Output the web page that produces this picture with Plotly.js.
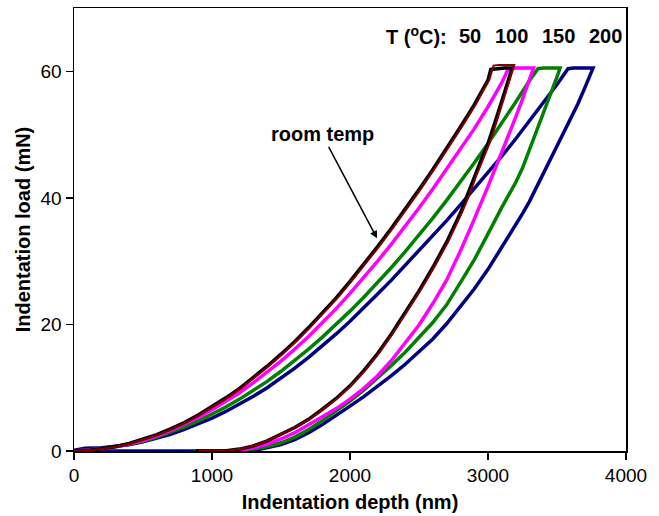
<!DOCTYPE html>
<html>
<head>
<meta charset="utf-8">
<script src="https://cdn.plot.ly/plotly-3.0.1.min.js"></script>
<style>
  html, body { margin: 0; padding: 0; background: #fff; }
  #chart { width: 659px; height: 516px; }
</style>
</head>
<body>
<div id="chart"></div>
<script>
// Load–depth curves from nanoindentation at several temperatures.
// Each curve: loading, hold at peak load, unloading, tip withdrawal at zero load.

// Room temperature
const depthRT = [0, 100, 200, 300, 400, 500, 600, 700, 800, 900, 1000, 1100, 1200, 1300, 1400, 1500, 1600, 1700, 1800, 1900, 2000, 2100, 2200, 2300, 2400, 2500, 2600, 2700, 2800, 2900, 3000, 3020,
  3060, 3120, 3175,
  3150, 3100, 3050, 3000, 2950, 2900, 2850, 2800, 2700, 2600, 2500, 2400, 2300, 2200, 2100, 2000, 1900, 1800, 1700, 1600, 1500, 1400, 1300, 1200, 1090, 880];
const loadRT = [0, 0.1, 0.35, 0.7, 1.2, 1.85, 2.6, 3.5, 4.5, 5.7, 7.0, 8.4, 9.9, 11.6, 13.4, 15.3, 17.3, 19.5, 21.8, 24.2, 26.8, 29.5, 32.3, 35.2, 38.2, 41.3, 44.5, 47.8, 51.2, 54.7, 58.6, 60.3,
  60.4, 60.5, 60.5,
  58.9, 55.3, 51.9, 48.6, 46.0, 43.2, 40.2, 37.6, 33.0, 29.0, 25.3, 21.8, 18.5, 15.4, 12.7, 10.3, 8.3, 6.6, 5.0, 3.7, 2.6, 1.6, 0.8, 0.3, 0, 0];

// 50 °C
const depth50 = [0, 110, 210, 310, 410, 510, 610, 710, 810, 910, 1010, 1110, 1210, 1310, 1410, 1510, 1610, 1710, 1810, 1910, 2010, 2110, 2210, 2310, 2410, 2510, 2610, 2710, 2810, 2910, 3010, 3040,
  3080, 3140, 3190,
  3162, 3112, 3062, 3012, 2962, 2912, 2862, 2812, 2712, 2612, 2512, 2412, 2312, 2212, 2112, 2012, 1912, 1812, 1712, 1612, 1512, 1412, 1312, 1212, 1102, 900];
const load50 = [0, 0.1, 0.35, 0.7, 1.2, 1.85, 2.6, 3.5, 4.5, 5.7, 7.0, 8.4, 9.9, 11.6, 13.4, 15.3, 17.3, 19.5, 21.8, 24.2, 26.8, 29.5, 32.3, 35.2, 38.2, 41.3, 44.5, 47.8, 51.2, 54.7, 58.7, 60.9,
  61.0, 61.0, 61.0,
  59.0, 55.4, 52.0, 48.7, 46.1, 43.3, 40.3, 37.7, 33.1, 29.1, 25.4, 21.9, 18.6, 15.5, 12.8, 10.4, 8.4, 6.7, 5.1, 3.8, 2.7, 1.7, 0.9, 0.35, 0, 0];

// 100 °C
const depth100 = [0, 100, 200, 300, 400, 500, 600, 700, 800, 900, 1000, 1100, 1200, 1300, 1400, 1500, 1600, 1700, 1800, 1900, 2000, 2100, 2200, 2300, 2400, 2500, 2600, 2700, 2800, 2900, 3000, 3100, 3145,
  3200, 3330,
  3300, 3250, 3200, 3150, 3100, 3050, 3000, 2900, 2800, 2700, 2600, 2500, 2400, 2300, 2200, 2100, 2000, 1900, 1800, 1700, 1600, 1500, 1400, 1300, 1180, 950];
const load100 = [0, 0.1, 0.3, 0.65, 1.1, 1.7, 2.4, 3.25, 4.2, 5.3, 6.5, 7.8, 9.2, 10.8, 12.5, 14.2, 16.1, 18.1, 20.3, 22.5, 24.9, 27.4, 30.0, 32.7, 35.5, 38.4, 41.4, 44.5, 47.6, 50.9, 54.4, 58.2, 60.3,
  60.5, 60.5,
  58.6, 55.6, 52.7, 49.9, 47.1, 44.4, 41.8, 36.6, 31.6, 27.0, 23.3, 19.9, 17.0, 14.3, 11.9, 9.9, 8.2, 6.7, 5.4, 4.1, 2.9, 1.9, 1.1, 0.5, 0, 0];

// 150 °C
const depth150 = [0, 100, 200, 300, 400, 500, 600, 700, 800, 900, 1000, 1100, 1200, 1300, 1400, 1500, 1600, 1700, 1800, 1900, 2000, 2100, 2200, 2300, 2400, 2500, 2600, 2700, 2800, 2900, 3000, 3100, 3200, 3300, 3362,
  3400, 3522,
  3500, 3450, 3400, 3350, 3300, 3250, 3200, 3100, 3000, 2900, 2800, 2700, 2600, 2500, 2400, 2300, 2200, 2100, 2000, 1900, 1800, 1700, 1600, 1500, 1400, 1300, 1200, 870];
const load150 = [0, 0.15, 0.35, 0.65, 1.05, 1.55, 2.2, 2.95, 3.8, 4.75, 5.8, 6.95, 8.2, 9.55, 11.0, 12.6, 14.3, 16.1, 18.0, 20.0, 22.1, 24.3, 26.6, 29.0, 31.5, 34.1, 36.8, 39.6, 42.5, 45.5, 48.6, 51.8, 55.1, 58.5, 60.4,
  60.5, 60.5,
  59.1, 56.2, 53.4, 50.6, 47.6, 44.7, 42.4, 38.5, 34.3, 30.2, 26.6, 23.1, 20.3, 17.9, 15.6, 13.5, 11.5, 9.6, 7.9, 6.3, 4.8, 3.4, 2.2, 1.3, 0.7, 0.3, 0, 0];

// 200 °C
const depth200 = [0, 80, 200, 300, 400, 500, 600, 700, 800, 900, 1000, 1100, 1200, 1300, 1400, 1500, 1600, 1700, 1800, 1900, 2000, 2100, 2200, 2300, 2400, 2500, 2600, 2700, 2800, 2900, 3000, 3100, 3200, 3300, 3400, 3500, 3580,
  3620, 3761,
  3740, 3700, 3650, 3600, 3550, 3500, 3450, 3400, 3350, 3300, 3250, 3200, 3100, 3000, 2900, 2800, 2700, 2600, 2500, 2400, 2300, 2200, 2100, 2000, 1900, 1800, 1700, 1600, 1500, 1400, 1290, 0];
const load200 = [0.1, 0.45, 0.5, 0.7, 1.0, 1.45, 2.0, 2.65, 3.4, 4.25, 5.2, 6.25, 7.4, 8.65, 10.0, 11.5, 13.1, 14.8, 16.6, 18.5, 20.5, 22.6, 24.8, 27.0, 29.3, 31.6, 34.0, 36.4, 38.9, 41.4, 44.0, 46.6, 49.3, 52.1, 55.0, 57.9, 60.4,
  60.5, 60.5,
  59.3, 57.3, 54.8, 52.6, 50.4, 48.4, 46.2, 43.8, 41.5, 39.4, 37.5, 35.7, 32.3, 28.7, 25.6, 22.8, 20.1, 17.7, 15.7, 13.7, 11.9, 10.2, 8.6, 7.1, 5.6, 4.2, 2.9, 1.8, 1.0, 0.5, 0, 0];

// Temperature header above the curves
const tempHeader = 'T (<sup>o</sup>C):';
const tempLabels = ['50', '100', '150', '200'];

const FONT = 'Liberation Sans, Arial, Helvetica, sans-serif';

function curve(x, y, color, width) {
  return {
    x: x, y: y, type: 'scatter', mode: 'lines',
    line: { color: color, width: width, shape: 'linear' },
    hoverinfo: 'skip', showlegend: false
  };
}

const traces = [
  curve(depth200, load200, '#000080', 3.5),
  curve(depth150, load150, '#008000', 3.5),
  curve(depth100, load100, '#ff00ff', 3.5),
  curve(depthRT, loadRT, '#000000', 3.5),
  curve(depth50, load50, '#800000', 2)
];

// plot area in pixels
const M = { l: 74, r: 33, t: 8, b: 65 };
const plotW = 659 - M.l - M.r, plotH = 516 - M.t - M.b;
const px = x => (x - M.l) / plotW;
const py = y => (516 - M.b - y) / plotH;

const headerFont = { family: FONT, size: 20, color: '#000' };
const headerX = [469.5, 511.5, 558, 605];

const annotations = [
  {
    x: 2196, y: 33.6, xref: 'x', yref: 'y',
    text: '<b>room temp</b>', showarrow: true,
    ax: -55, ay: -104, arrowhead: 2, arrowsize: 1, arrowwidth: 1.5, arrowcolor: '#000',
    font: { family: FONT, size: 20, color: '#000' }
  },
  {
    x: px(449), y: py(36), xref: 'paper', yref: 'paper',
    text: '<b>' + tempHeader + '</b>', showarrow: false,
    xanchor: 'right', yanchor: 'middle', font: headerFont
  }
];
tempLabels.forEach((t, i) => {
  annotations.push({
    x: px(headerX[i]), y: py(36), xref: 'paper', yref: 'paper',
    text: '<b>' + t + '</b>', showarrow: false,
    xanchor: 'center', yanchor: 'middle', font: headerFont
  });
});

const layout = {
  width: 659, height: 516,
  margin: M,
  paper_bgcolor: '#ffffff', plot_bgcolor: '#ffffff',
  font: { family: FONT, size: 19, color: '#000' },
  xaxis: {
    range: [0, 4000], tickvals: [0, 1000, 2000, 3000, 4000],
    ticks: 'outside', ticklen: 7, tickwidth: 1.5, tickcolor: '#000',
    showline: true, linecolor: '#000', linewidth: 1.5, mirror: true,
    showgrid: false, zeroline: false,
    tickfont: { family: FONT, size: 19, color: '#000' },
    title: { text: '<b>Indentation depth (nm)</b>', font: { family: FONT, size: 20, color: '#000' }, standoff: 9 }
  },
  yaxis: {
    range: [0, 70], tickvals: [0, 20, 40, 60],
    ticks: 'outside', ticklen: 7, tickwidth: 1.5, tickcolor: '#000',
    showline: true, linecolor: '#000', linewidth: 1.5, mirror: true,
    showgrid: false, zeroline: false,
    tickfont: { family: FONT, size: 19, color: '#000' },
    title: { text: '<b>Indentation load (mN)</b>', font: { family: FONT, size: 20, color: '#000' }, standoff: 4 }
  },
  annotations: annotations
};

Plotly.newPlot('chart', traces, layout, { staticPlot: true, displayModeBar: false });
</script>
</body>
</html>
